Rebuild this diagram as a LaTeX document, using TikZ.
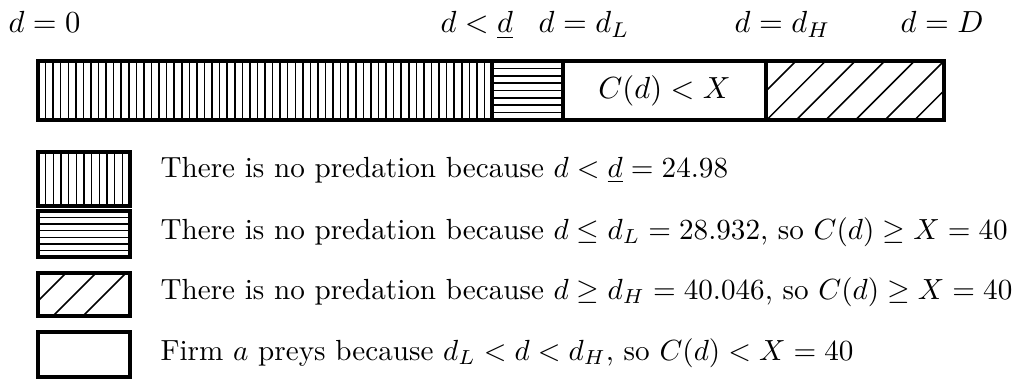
\documentclass[tikz,border=0pt]{standalone}
\usepackage{amsmath}
\usepackage{tikz}

\begin{document}
\begin{tikzpicture}[x=0.0115cm, y=-0.0115cm,
    border/.style={line width=1pt},
    hatch/.style={line width=0.5pt},
    legtext/.style={anchor=base west, inner sep=0pt, scale=0.954}]
  \useasboundingbox (0,0) rectangle (1018,379);
  % labels above the bar
  \node[anchor=base west, inner sep=0pt] (dzero)  at (8,33)   {$d=0$};
  \node[anchor=base west, inner sep=0pt] (dunder) at (440,33) {$d<\underline{d}$};
  \node[anchor=base west, inner sep=0pt] (dlow)   at (538,33) {$d=d_L$};
  \node[anchor=base west, inner sep=0pt] (dhigh)  at (734,33) {$d=d_H$};
  \node[anchor=base west, inner sep=0pt] (dmax)   at (900,33) {$d=D$};
  % the bar: vertical hatch up to d underline
  \foreach \i in {1,...,59} \draw[hatch] ({38+\i*7.567},61) -- ++(0,59);
  % horizontal hatch up to d_L
  \foreach \i in {1,...,7} \draw[hatch] (492,{61+\i*59/8}) -- (563,{61+\i*59/8});
  % diagonal hatch from d_H to D
  \begin{scope}
    \clip (766,61) rectangle (944,120);
    \foreach \i in {0,...,7} \draw[hatch] ({737+\i*29.6},120) -- ++(59,-59);
  \end{scope}
  \draw[border] (38,61) rectangle (944,120);
  \draw[border] (492,61) -- (492,120);
  \draw[border] (563,61) -- (563,120);
  \draw[border] (766,61) -- (766,120);
  \node (cx) at (664.5,90.5) {$C(d)<X$};
  % legend keys
  \foreach \i in {1,...,11} \draw[hatch] ({38+\i*7.667},152) -- ++(0,54);
  \draw[border] (38,152) rectangle (130,206);
  \foreach \i in {1,...,6} \draw[hatch] (38,{211+\i*6.571}) -- (130,{211+\i*6.571});
  \draw[border] (38,211) rectangle (130,257);
  \begin{scope}
    \clip (38,273) rectangle (130,316);
    \foreach \x in {23,53,83} \draw[hatch] (\x,316) -- ++(43,-43);
  \end{scope}
  \draw[border] (38,273) rectangle (130,316);
  \draw[border] (38,332) rectangle (130,377);
  % legend texts
  \node[legtext] (leg1) at (160,177)
    {There is no predation because $d<\underline{d}=24.98$};
  \node[legtext] (leg2) at (160,239)
    {There is no predation because $d\leq d_L=28.932$, so $C(d)\geq X=40$};
  \node[legtext] (leg3) at (160,299)
    {There is no predation because $d\geq d_H=40.046$, so $C(d)\geq X=40$};
  \node[legtext] (leg4) at (160,360)
    {Firm $a$ preys because $d_L<d<d_H$, so $C(d)<X=40$};
\end{tikzpicture}
\end{document}
